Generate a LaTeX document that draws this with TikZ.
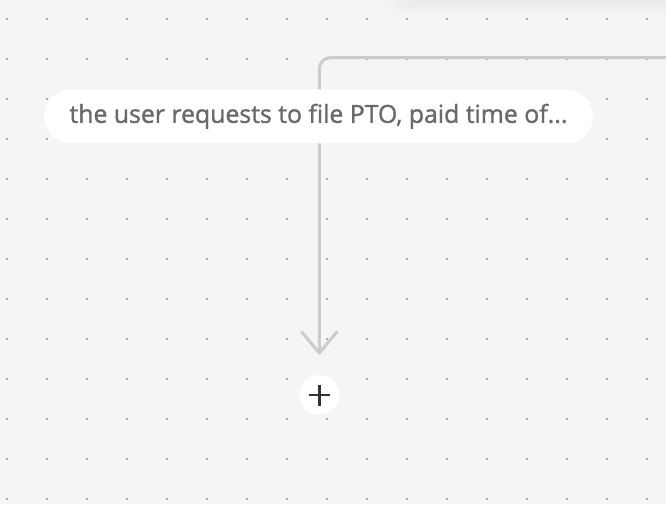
\documentclass[tikz,border=0pt]{standalone}
\usepackage{fontspec}
\setmainfont{Open Sans}
\newfontfamily\lblfont[FakeBold=1.3]{Open Sans}
\usetikzlibrary{calc}
\definecolor{bg}{HTML}{F5F5F5}
\definecolor{griddot}{HTML}{ABABAB}
\definecolor{wire}{HTML}{CCCCCC}
\definecolor{labeltext}{HTML}{6A6A6A}
\definecolor{plusink}{HTML}{333333}
\tikzset{
  pill/.style={fill=white, rounded corners=27pt, minimum height=54pt, minimum width=549pt, inner sep=0pt, text=labeltext},
  addbtn/.style={circle, fill=white, minimum size=40pt, inner sep=0pt},
  wireline/.style={draw=wire, line width=3pt, line cap=round, line join=round},
}
\begin{document}
\begin{tikzpicture}[x=1pt,y=-1pt]
\useasboundingbox (0,0) rectangle (666,504);
\fill[bg] (0,0) rectangle (666,504);
% faint soft shadow of an element above the frame
\foreach \i in {1,...,12} {
  \fill[black, opacity=0.004, rounded corners=12pt] ({420-3*\i},-40) rectangle (720,{-2+1.5*\i});
}
\foreach \gx in {0,...,16} {
  \foreach \gy in {0,...,12} {
    \fill[griddot] ({7.3+40*\gx-1},{19.3+40*\gy-1}) rectangle +(2,2);
  }
}
\coordinate (start) at (668,57.7);
\coordinate (tip) at (319.3,353);
\draw[wireline, rounded corners=11pt] (start) -- (319.3,57.7) -- (tip);
\draw[wireline] ($(tip)+(-17.5,-21)$) -- (tip) -- ($(tip)+(17.5,-21)$);
\node[pill] (cond) at (318.5,116.3) {\resizebox{498pt}{!}{\lblfont\fontsize{20pt}{24pt}\selectfont the user requests to file PTO, paid time of...}};
\node[addbtn] (add) at (319.3,395) {};
\draw[plusink, line width=2.4pt] ($(add.center)+(-10.5,0)$) -- ($(add.center)+(10.5,0)$);
\draw[plusink, line width=2.4pt] ($(add.center)+(0,-10.5)$) -- ($(add.center)+(0,10.5)$);
\end{tikzpicture}
\end{document}
